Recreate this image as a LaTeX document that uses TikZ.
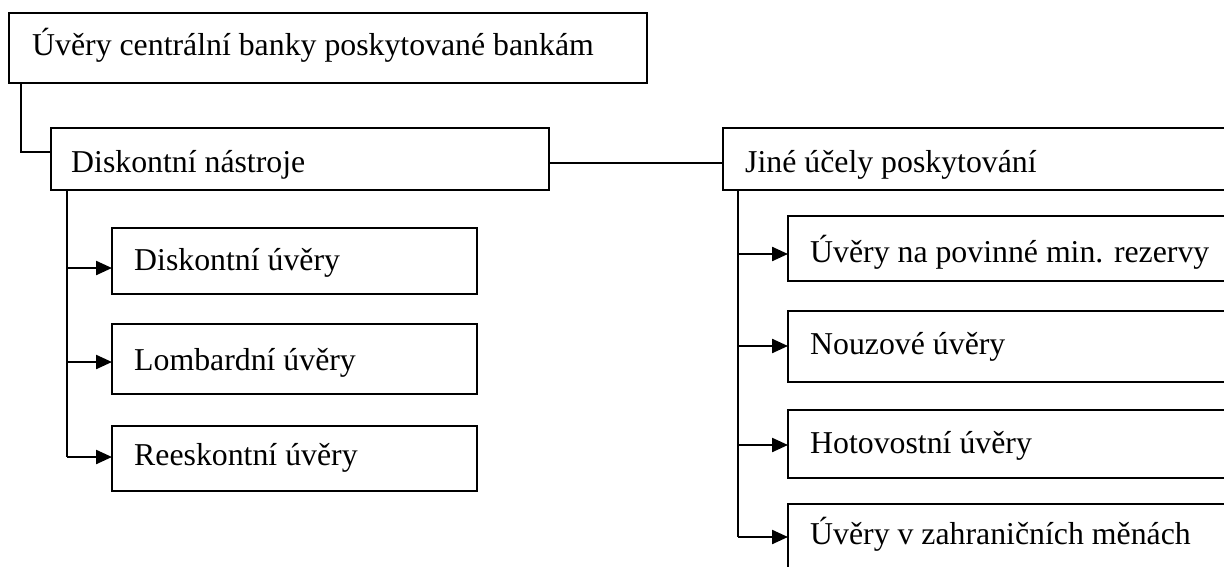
\documentclass[tikz,border=0pt]{standalone}
\usepackage{fontspec}
\setmainfont{Liberation Serif}
\usetikzlibrary{arrows.meta}
\begin{document}
\begin{tikzpicture}[x=1pt,y=-1pt,
  box/.style={draw=black, line width=2.3pt, inner sep=0pt, outer sep=0pt, anchor=north west, fill=white},
  lbl/.style={anchor=base west, inner sep=0pt, font=\fontsize{31.8}{36}\selectfont},
  link/.style={draw=black, line width=2.3pt},
  arr/.style={draw=black, line width=2.3pt, -{Triangle[length=16pt,width=14pt]}}]
\useasboundingbox (0,0) rectangle (1224,567);
\clip (0,0) rectangle (1224,567);

% top-level box
\node[box, minimum width=638pt, minimum height=70pt] (root) at (9,13) {};
\node[lbl] (troot) at (32,56) {Úvěry centrální banky poskytované bankám};

% the two groups
\node[box, minimum width=498pt, minimum height=62pt] (disk) at (51,128) {};
\node[lbl] (tdisk) at (71,172) {Diskontní nástroje};
\node[box, minimum width=520pt, minimum height=62pt] (jine) at (723,128) {};
\node[lbl] (tjine) at (745,172) {Jiné účely poskytování};

% left group members
\node[box, minimum width=365pt, minimum height=66pt] (d1) at (112,228) {};
\node[lbl] (td1) at (134,270) {Diskontní úvěry};
\node[box, minimum width=365pt, minimum height=70pt] (d2) at (112,324) {};
\node[lbl] (td2) at (134,370) {Lombardní úvěry};
\node[box, minimum width=365pt, minimum height=65pt] (d3) at (112,426) {};
\node[lbl] (td3) at (134,465) {Reeskontní úvěry};

% right group members
\node[box, minimum width=460pt, minimum height=65pt] (j1) at (788,216) {};
\node[lbl] (tj1) at (810,262) {Úvěry na povinné min. rezervy};
\node[box, minimum width=460pt, minimum height=71pt] (j2) at (788,311) {};
\node[lbl] (tj2) at (810,354) {Nouzové úvěry};
\node[box, minimum width=460pt, minimum height=68pt] (j3) at (788,410) {};
\node[lbl] (tj3) at (810,453) {Hotovostní úvěry};
\node[box, minimum width=460pt, minimum height=80pt] (j4) at (788,504) {};
\node[lbl] (tj4) at (810,544) {Úvěry v zahraničních měnách};

% root to left group
\coordinate (r0) at (21,83);
\coordinate (r1) at (21,152);
\draw[link] (r0) -- (r1) -- (r1 -| disk.west);

% between the groups
\draw[draw=black, line width=1.8pt] (disk.east |- 0,163) -- (jine.west |- 0,163);

% left trunk and branches
\coordinate (dl0) at (67,190);
\coordinate (dl1) at (67,268);
\coordinate (dl2) at (67,362);
\coordinate (dl3) at (67,457);
\draw[link] (dl0) -- (dl3);
\draw[arr] (dl1) -- (dl1 -| d1.west);
\draw[arr] (dl2) -- (dl2 -| d2.west);
\draw[arr] (dl3) -- (dl3 -| d3.west);

% right trunk and branches
\coordinate (jl0) at (738,190);
\coordinate (jl1) at (738,254);
\coordinate (jl2) at (738,346);
\coordinate (jl3) at (738,445);
\coordinate (jl4) at (738,537);
\draw[link] (jl0) -- (jl4);
\draw[arr] (jl1) -- (jl1 -| j1.west);
\draw[arr] (jl2) -- (jl2 -| j2.west);
\draw[arr] (jl3) -- (jl3 -| j3.west);
\draw[arr] (jl4) -- (jl4 -| j4.west);
\end{tikzpicture}
\end{document}
